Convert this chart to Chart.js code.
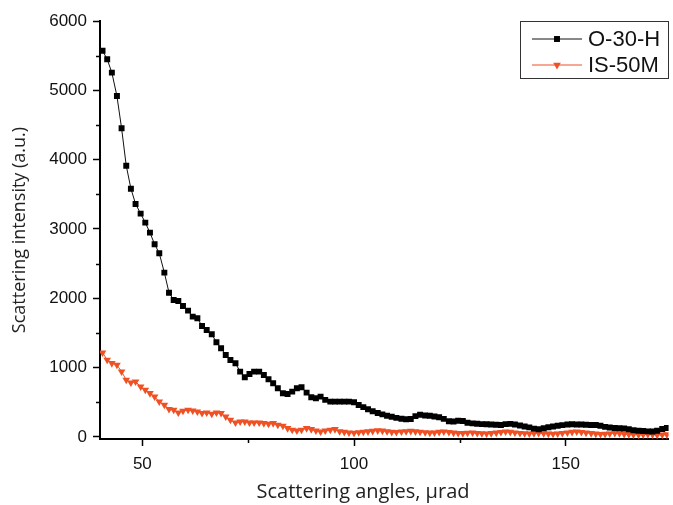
<!DOCTYPE html>
<html>
<head>
<meta charset="utf-8">
<script src="https://cdn.jsdelivr.net/npm/chart.js@4.4.1/dist/chart.umd.min.js"></script>
<style>
  html, body { margin: 0; padding: 0; background: #fff; }
  #wrap { width: 673px; height: 505px; position: relative; }
</style>
</head>
<body>
<div id="wrap"><canvas id="scatter"></canvas></div>
<script>
// scattering angle (µrad) of each sample point
const angles = [
  40.6, 41.7, 42.8, 44.0, 45.1, 46.2, 47.3, 48.4, 49.6, 50.7,
  51.8, 52.9, 54.0, 55.2, 56.3, 57.4, 58.5, 59.6, 60.8, 61.9,
  63.0, 64.1, 65.2, 66.4, 67.5, 68.6, 69.7, 70.8, 72.0, 73.1,
  74.2, 75.3, 76.4, 77.6, 78.7, 79.8, 80.9, 82.0, 83.2, 84.3,
  85.4, 86.5, 87.6, 88.8, 89.9, 91.0, 92.1, 93.2, 94.4, 95.5,
  96.6, 97.7, 98.8, 100.0, 101.1, 102.2, 103.3, 104.4, 105.6, 106.7,
  107.8, 108.9, 110.0, 111.2, 112.3, 113.4, 114.5, 115.6, 116.8, 117.9,
  119.0, 120.1, 121.2, 122.4, 123.5, 124.6, 125.7, 126.8, 128.0, 129.1,
  130.2, 131.3, 132.4, 133.6, 134.7, 135.8, 136.9, 138.0, 139.2, 140.3,
  141.4, 142.5, 143.6, 144.8, 145.9, 147.0, 148.1, 149.2, 150.4, 151.5,
  152.6, 153.7, 154.8, 156.0, 157.1, 158.2, 159.3, 160.4, 161.6, 162.7,
  163.8, 164.9, 166.0, 167.2, 168.3, 169.4, 170.5, 171.6, 172.8, 173.9
];

const o30h = [
  5572, 5448, 5255, 4918, 4452, 3913, 3581, 3361, 3221, 3091,
  2947, 2779, 2650, 2370, 2081, 1976, 1962, 1890, 1822, 1735,
  1712, 1601, 1543, 1481, 1366, 1279, 1183, 1111, 1063, 942,
  861, 909, 942, 942, 894, 832, 775, 702, 630, 620,
  653, 702, 716, 639, 573, 558, 581, 534, 509, 509,
  509, 509, 509, 500, 460, 430, 400, 370, 345, 325,
  305, 290, 275, 262, 255, 258, 300, 320, 310, 305,
  295, 285, 260, 225, 222, 232, 230, 205, 195, 190,
  185, 183, 180, 175, 172, 185, 188, 180, 165, 150,
  138, 120, 111, 125, 140, 150, 160, 170, 178, 183,
  180, 178, 175, 173, 172, 160, 145, 135, 130, 125,
  122, 110, 95, 90, 85, 80, 77, 90, 115, 130
];

const is50m = [
  1216, 1111, 1063, 1039, 942, 822, 783, 798, 726, 678,
  630, 581, 509, 462, 400, 389, 351, 375, 389, 379,
  365, 342, 351, 332, 351, 342, 293, 245, 206, 221,
  221, 206, 206, 206, 197, 188, 197, 173, 159, 125,
  101, 91, 101, 125, 111, 91, 77, 91, 101, 111,
  80, 70, 62, 58, 65, 72, 78, 85, 92, 88,
  80, 70, 68, 75, 80, 85, 78, 72, 66, 60,
  62, 70, 75, 68, 60, 55, 52, 58, 62, 55,
  50, 48, 52, 60, 68, 75, 70, 62, 55, 50,
  48, 52, 55, 50, 46, 44, 48, 55, 62, 70,
  75, 68, 60, 52, 45, 40, 42, 48, 55, 50,
  42, 38, 35, 32, 35, 38, 34, 30, 32, 35
];

const xTicks = [50, 100, 150];
const xMinor = [75, 125];
const yTicks = [0, 1000, 2000, 3000, 4000, 5000, 6000];
const yMinor = [500, 1500, 2500, 3500, 4500, 5500];
const seriesNames = ["O-30-H", "IS-50M"];

const RED = "#ef5124";

// small outward minor ticks, placed through the scales
const minorTicks = {
  id: "minorTicks",
  afterDraw(chart) {
    const { ctx, scales: { x, y } } = chart;
    ctx.save();
    ctx.strokeStyle = "#000";
    ctx.lineWidth = 1.5;
    yMinor.forEach(v => {
      const py = Math.round(y.getPixelForValue(v)) + 0.5;
      ctx.beginPath(); ctx.moveTo(x.left, py); ctx.lineTo(x.left - 4, py); ctx.stroke();
    });
    xMinor.forEach(v => {
      const px = Math.round(x.getPixelForValue(v)) + 0.5;
      ctx.beginPath(); ctx.moveTo(px, y.bottom); ctx.lineTo(px, y.bottom + 4); ctx.stroke();
    });
    // x axis title, centred like the original
    ctx.fillStyle = "#222";
    ctx.font = "20px 'Open Sans'";
    ctx.textAlign = "center";
    ctx.textBaseline = "middle";
    ctx.fillText("Scattering angles, \u03bcrad", 363, 492);
    ctx.restore();
  }
};

// boxed legend: line + marker + label
const boxLegend = {
  id: "boxLegend",
  afterDraw(chart) {
    const ctx = chart.ctx;
    ctx.save();
    ctx.strokeStyle = "#333";
    ctx.lineWidth = 1;
    ctx.strokeRect(520.5, 21.5, 148, 57);
    chart.data.datasets.forEach((ds, i) => {
      const cy = 39 + i * 26;
      ctx.strokeStyle = ds.borderColor;
      ctx.lineWidth = 1;
      ctx.beginPath(); ctx.moveTo(532, cy); ctx.lineTo(582, cy); ctx.stroke();
      ctx.fillStyle = ds.pointBackgroundColor;
      Chart.helpers.drawPoint(ctx, {
        pointStyle: ds.pointStyle, radius: ds.pointRadius,
        rotation: ds.pointRotation || 0, borderWidth: 0
      }, 557, cy);
      ctx.fillStyle = "#111";
      ctx.font = "22px 'Liberation Sans'";
      ctx.textAlign = "left";
      ctx.textBaseline = "middle";
      ctx.fillText(seriesNames[i], 588, cy + 1);
    });
    ctx.restore();
  }
};

new Chart(document.getElementById("scatter"), {
  type: "line",
  data: {
    datasets: [{
      label: seriesNames[0],
      data: angles.map((a, i) => ({ x: a, y: o30h[i] })),
      borderColor: "#111",
      borderWidth: 1,
      pointStyle: "rect",
      pointRadius: 4.2,
      pointBackgroundColor: "#000",
      pointBorderWidth: 0,
      tension: 0
    }, {
      label: seriesNames[1],
      data: angles.map((a, i) => ({ x: a, y: is50m[i] })),
      borderColor: RED,
      borderWidth: 1,
      pointStyle: "triangle",
      pointRotation: 180,
      pointRadius: 4.4,
      pointBackgroundColor: RED,
      pointBorderWidth: 0,
      tension: 0
    }]
  },
  options: {
    responsive: true,
    maintainAspectRatio: false,
    animation: false,
    layout: { padding: { top: 21, right: 0, left: 0, bottom: 0 } },
    plugins: { legend: { display: false }, tooltip: { enabled: false } },
    scales: {
      x: {
        type: "linear",
        min: 40, max: 174.3,
        afterBuildTicks: s => { s.ticks = xTicks.map(v => ({ value: v })); },
        afterFit: s => { s.height = 66; },
        border: { color: "#000", width: 2 },
        grid: { drawOnChartArea: false, tickColor: "#000", tickLength: 7, tickWidth: 1.5 },
        ticks: { color: "#111", padding: 8, font: { family: "Liberation Sans", size: 17 },
                 callback: v => String(v) }
      },
      y: {
        min: -30, max: 6000,
        afterBuildTicks: s => { s.ticks = yTicks.map(v => ({ value: v })); },
        afterFit: s => { s.width = 100; },
        border: { color: "#000", width: 2 },
        grid: { drawOnChartArea: false, tickColor: "#000", tickLength: 7, tickWidth: 1.5 },
        ticks: { color: "#111", padding: 6, font: { family: "Liberation Sans", size: 17 },
                 callback: v => String(v) },
        title: {
          display: true,
          text: "Scattering intensity (a.u.)",
          color: "#222",
          padding: { top: 9, bottom: 0 },
          font: { family: "Open Sans", size: 18 }
        }
      }
    }
  },
  plugins: [minorTicks, boxLegend]
});
</script>
</body>
</html>
